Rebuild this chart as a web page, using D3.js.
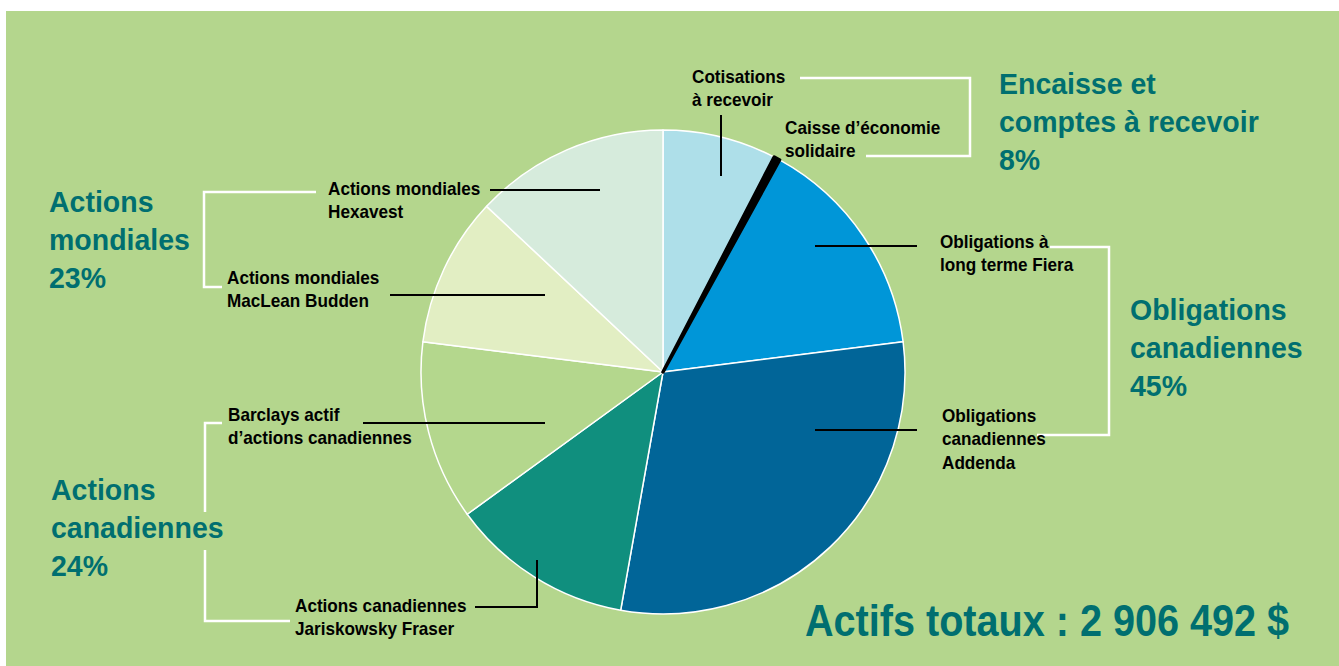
<!DOCTYPE html>
<html>
<head>
<meta charset="utf-8">
<script src="https://cdn.jsdelivr.net/npm/d3@7"></script>
<style>
  body { margin: 0; background: #fff; }
  text { font-family: "Liberation Sans", Arial, sans-serif; font-weight: bold; }
</style>
</head>
<body>
<div id="chart"></div>
<script>
// slices, clockwise from 12 o'clock
var sliceNames = [
  ["Cotisations", "à recevoir"],
  ["Caisse d\u2019économie", "solidaire"],
  ["Obligations à", "long terme Fiera"],
  ["Obligations", "canadiennes", "Addenda"],
  ["Actions canadiennes", "Jariskowsky Fraser"],
  ["Barclays actif", "d\u2019actions canadiennes"],
  ["Actions mondiales", "MacLean Budden"],
  ["Actions mondiales", "Hexavest"]
];
var sliceShares = [7.6, 0.4, 15.0, 29.8, 12.2, 12.0, 10.0, 13.0];

var groupNames = [
  ["Encaisse et", "comptes à recevoir"],
  ["Obligations", "canadiennes"],
  ["Actions", "canadiennes"],
  ["Actions", "mondiales"]
];
var groupShares = ["8%", "45%", "24%", "23%"];
var totalLabel = "Actifs totaux : 2 906 492 $";

var width = 1339,
  height = 666;
var sliceColours = [
  "#aedfe9",
  "#000000",
  "#0096d8",
  "#016598",
  "#108f7e",
  "#b4d78d",
  "#e2eec3",
  "#d6ebdc"
];
var teal = "#006f70";

// where each slice label sits and how its leader runs
var labelLayout = [
  { x: 692, y: 83, leader: [[721, 115], [721, 176]] },
  { x: 785, y: 134, leader: null },
  { x: 940, y: 248, leader: [[815, 246], [917, 246]] },
  { x: 942, y: 422, leader: [[815, 430], [917, 430]] },
  { x: 295, y: 612, leader: [[537, 560], [537, 607], [475, 607]] },
  { x: 228, y: 421, leader: [[363, 423], [545, 423]] },
  { x: 227, y: 284, leader: [[390, 295], [545, 295]] },
  { x: 328, y: 195, leader: [[490, 190], [600, 190]] }
];
var groupLayout = [
  { x: 999, y: 94, bracket: [[800, 78], [970, 78], [970, 156], [866, 156]] },
  { x: 1130, y: 320, bracket: [[1050, 247], [1109, 247], [1109, 435], [1037, 435]] },
  { x: 51, y: 500, bracket: [[222, 423], [205, 423], [205, 512]], bracket2: [[205, 550], [205, 621], [290, 621]] },
  { x: 49, y: 212, bracket: [[316, 192], [204, 192], [204, 287], [222, 287]] }
];

var svg = d3
  .select("#chart")
  .append("svg")
  .attr("width", width)
  .attr("height", height);

svg.append("rect")
  .attr("x", 6)
  .attr("y", 11)
  .attr("width", width - 6)
  .attr("height", height - 11)
  .attr("fill", "#b4d68d");

var cx = 663,
  cy = 372,
  radius = 242;

var pie = d3.pie().sort(null).value(function (d) { return d; });
var arc = d3.arc().innerRadius(0).outerRadius(radius);

var pieG = svg.append("g").attr("transform", "translate(" + cx + "," + cy + ")");
pieG
  .selectAll("path")
  .data(pie(sliceShares))
  .enter()
  .append("path")
  .attr("d", arc)
  .attr("fill", function (d, i) { return sliceColours[i]; })
  .attr("stroke", function (d, i) { return i == 1 ? "#000" : "#fff"; })
  .attr("stroke-width", function (d, i) { return i == 1 ? 3.5 : 1.5; })
  .attr("stroke-linejoin", "round");
// bring the black wedge to the front so its edge is not covered
pieG.selectAll("path").filter(function (d, i) { return i == 1; }).raise();

var line = d3.line();

// white brackets
groupLayout.forEach(function (g) {
  [g.bracket, g.bracket2].forEach(function (b) {
    if (!b) return;
    svg.append("path")
      .attr("d", line(b))
      .attr("fill", "none")
      .attr("stroke", "#fff")
      .attr("stroke-width", 2.5);
  });
});

// black leaders
labelLayout.forEach(function (l) {
  if (!l.leader) return;
  svg.append("path")
    .attr("d", line(l.leader))
    .attr("fill", "none")
    .attr("stroke", "#000")
    .attr("stroke-width", 2);
});

// condensed look: squeeze the text horizontally
function multiLine(x, y, lines, size, gap, sx, fill) {
  var t = svg.append("text")
    .attr("transform", "translate(" + x + "," + y + ") scale(" + sx + ",1)")
    .attr("font-size", size + "px")
    .attr("fill", fill);
  t.selectAll("tspan")
    .data(lines)
    .enter()
    .append("tspan")
    .attr("x", 0)
    .attr("dy", function (d, j) { return j == 0 ? 0 : gap; })
    .text(function (d) { return d; });
  return t;
}

// slice labels
sliceNames.forEach(function (lines, i) {
  multiLine(labelLayout[i].x, labelLayout[i].y, lines, 17.5, 23.5, 0.98, "#000");
});

// group labels
groupNames.forEach(function (lines, i) {
  multiLine(groupLayout[i].x, groupLayout[i].y, lines.concat([groupShares[i]]), 30, 38, 0.95, teal);
});

multiLine(805, 636, [totalLabel], 45, 0, 0.88, teal);
</script>
</body>
</html>
